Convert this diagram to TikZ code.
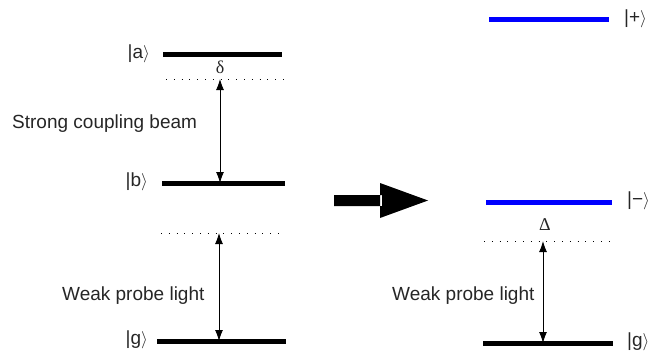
\documentclass[tikz,border=0pt]{standalone}
\usepackage{fontspec}
\setmainfont{Liberation Sans}
\newfontfamily\greekfont{Liberation Serif}
\usepackage{tikz}
\usetikzlibrary{arrows.meta,positioning,calc}
\tikzset{
  level/.style={line width=5pt},
  shifted/.style={line width=5pt,blue},
  virtual/.style={line width=0.9pt,dash pattern=on 0.9pt off 6.9pt},
  transition/.style={line width=0.9pt,{Latex[length=11pt,width=8pt]}-{Latex[length=11pt,width=8pt]}},
  lbl/.style={font=\fontsize{19}{22}\selectfont,inner sep=0pt,text=black!85},
  grk/.style={font=\fontsize{18}{20}\selectfont\greekfont,inner sep=0pt,text=black!85},
}
\newcommand{\ket}[1]{|#1\ensuremath{\rangle}}

\begin{document}
\begin{tikzpicture}[x=1pt,y=-1pt]
\useasboundingbox (0,0) rectangle (661,353);
\coordinate (A1) at (163,55);
\coordinate (A2) at (282,55);
\coordinate (B1) at (162,183);
\coordinate (B2) at (285,183);
\coordinate (G1) at (157,341);
\coordinate (G2) at (286,341);
\draw[level] (A1) -- (A2);
\draw[level] (B1) -- (B2);
\draw[level] (G1) -- (G2);
\node[lbl,left] (ka) at (150,54) {\ket{a}};
\node[lbl,left] (kb) at (148,182) {\ket{b}};
\node[lbl,left] (kg) at (148,340) {\ket{g}};
\draw[virtual] (166,79) coordinate (d1) -- (284,79);
\draw[virtual] (161,233) coordinate (d2) -- (285,233);
\coordinate (up1) at (220,79);
\coordinate (lo1) at (220,183);
\coordinate (up2) at (219,233);
\coordinate (lo2) at (219,341);
\draw[transition] (up1) -- (lo1);
\draw[transition] (up2) -- (lo2);
\node[grk] (delta) at (220,67) {δ};
\node[lbl,right] (strong) at (12,124) {Strong coupling beam};
\node[lbl,right] (weak1) at (62,296) {Weak probe light};

\fill (334,195) rectangle (382,206) (380,183) -- (428,200.5) -- (380,218) -- cycle;

\coordinate (P1) at (489,20);
\coordinate (P2) at (609,20);
\coordinate (M1) at (486,202);
\coordinate (M2) at (612,202);
\coordinate (H1) at (483,343);
\coordinate (H2) at (613,343);
\draw[shifted] (P1) -- (P2);
\draw[shifted] (M1) -- (M2);
\draw[level] (H1) -- (H2);
\node[lbl,right] (kp) at (624,19) {\ket{+}};
\node[lbl,right] (km) at (627,201) {\ket{−}};
\node[lbl,right] (kg2) at (627,342) {\ket{g}};
\draw[virtual] (484,241) -- (610,241);
\coordinate (up3) at (543,241);
\coordinate (lo3) at (543,343);
\draw[transition] (up3) -- (lo3);
\node[grk] (Delta) at (545,225) {Δ};
\node[lbl,right] (weak2) at (392,296) {Weak probe light};
\end{tikzpicture}
\end{document}
